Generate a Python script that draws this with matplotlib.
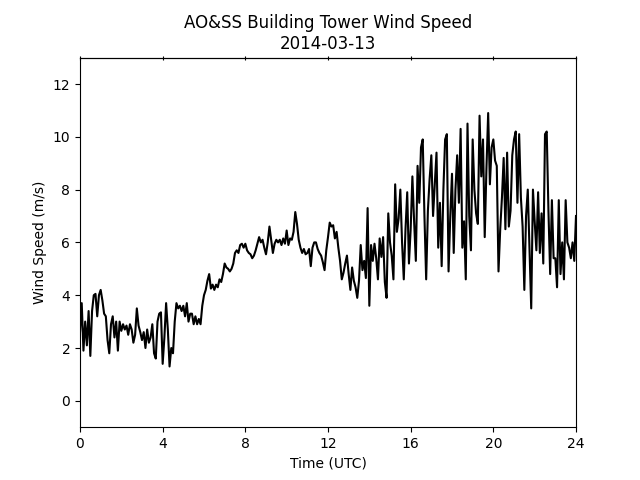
import numpy as np
import matplotlib
matplotlib.use('Agg')
import matplotlib.pyplot as plt

# wind speed (m/s), 5-minute samples from 00:00 to 24:00 UTC
speed = [
    2.6, 3.7, 1.9, 3.0, 2.1, 3.4, 1.7, 3.4, 4.0, 4.05, 3.2, 4.0,
    4.2, 3.8, 3.3, 3.2, 2.3, 1.8, 2.9, 3.2, 2.4, 3.0, 1.9, 3.0,
    2.65, 2.9, 2.7, 2.85, 2.5, 2.9, 2.7, 2.2, 2.5, 3.5, 2.85, 2.6,
    2.3, 2.6, 2.0, 2.7, 2.2, 2.4, 2.9, 1.8, 1.6, 3.0, 3.3, 3.35,
    1.4, 2.4, 3.7, 2.7, 1.3, 2.0, 1.8, 3.0, 3.7, 3.5, 3.6, 3.4,
    3.6, 3.2, 3.7, 3.0, 3.3, 3.3, 2.9, 3.2, 2.9, 3.1, 2.9, 3.6,
    4.0, 4.2, 4.55, 4.8, 4.25, 4.4, 4.2, 4.4, 4.3, 4.6, 4.5, 4.8,
    5.2, 5.05, 5.0, 4.9, 5.0, 5.2, 5.6, 5.7, 5.6, 5.9, 5.95, 5.8,
    5.95, 5.7, 5.6, 5.55, 5.4, 5.5, 5.7, 5.95, 6.2, 6.0, 6.1, 5.8,
    5.55, 6.0, 6.6, 6.1, 5.6, 5.95, 6.1, 6.0, 6.1, 5.9, 6.15, 5.95,
    6.45, 5.9, 6.15, 6.1, 6.4, 7.15, 6.7, 6.1, 5.8, 5.6, 5.75, 5.55,
    5.6, 5.75, 5.1, 5.8, 6.0, 6.0, 5.75, 5.6, 5.5, 5.25, 4.95, 5.7,
    6.2, 6.75, 6.6, 6.65, 6.15, 6.4, 5.8, 5.3, 4.6, 4.85, 5.2, 5.5,
    4.8, 4.2, 5.05, 4.55, 4.3, 3.9, 4.55, 5.9, 4.95, 5.3, 4.65, 7.3,
    3.6, 5.9, 5.3, 5.95, 5.4, 4.6, 6.15, 5.45, 6.2, 4.5, 3.9, 7.1,
    6.0, 5.5, 4.6, 8.2, 6.4, 6.9, 8.0, 6.0, 4.6, 6.5, 7.9, 5.2,
    6.5, 8.5, 6.8, 5.3, 8.9, 7.5, 9.6, 9.9, 7.0, 4.6, 7.2, 8.4,
    9.3, 7.0, 8.2, 9.4, 5.8, 7.5, 5.1, 8.0, 9.9, 10.1, 4.9, 7.0,
    8.6, 5.6, 8.0, 9.3, 7.5, 10.3, 5.8, 6.8, 4.6, 10.5, 7.0, 5.7,
    9.9, 8.0, 7.1, 6.7, 10.8, 8.5, 9.9, 6.2, 8.8, 10.9, 8.2, 9.6,
    9.9, 9.1, 8.9, 4.9, 6.5, 7.7, 9.2, 6.5, 9.4, 6.6, 7.2, 9.3,
    9.9, 10.2, 7.5, 10.1, 7.7, 6.6, 4.2, 7.0, 8.0, 5.8, 3.5, 8.0,
    6.8, 5.7, 7.9, 5.6, 7.1, 5.2, 10.1, 10.2, 7.2, 4.8, 7.6, 5.4,
    5.4, 4.3, 7.6, 4.8, 6.0, 4.6, 7.6, 6.0, 5.8, 5.4, 6.0, 5.3,
    7.0,
]
hours = np.arange(len(speed)) / 12.0

x_ticks = [0, 4, 8, 12, 16, 20, 24]
y_ticks = [0, 2, 4, 6, 8, 10, 12]

fig, ax = plt.subplots(figsize=(6.4, 4.8), dpi=100)
ax.plot(hours, speed, color='black', linewidth=1.5)

ax.set_xlim(0, 24)
ax.set_ylim(-1, 13)
ax.set_xticks(x_ticks)
ax.set_yticks(y_ticks)

top = ax.secondary_xaxis('top')
top.set_xticks(x_ticks)
top.tick_params(direction='inout', labeltop=False)

ax.set_title('AO&SS Building Tower Wind Speed\n2014-03-13')
ax.set_xlabel('Time (UTC)')
ax.set_ylabel('Wind Speed (m/s)')

fig.savefig('out.png')
